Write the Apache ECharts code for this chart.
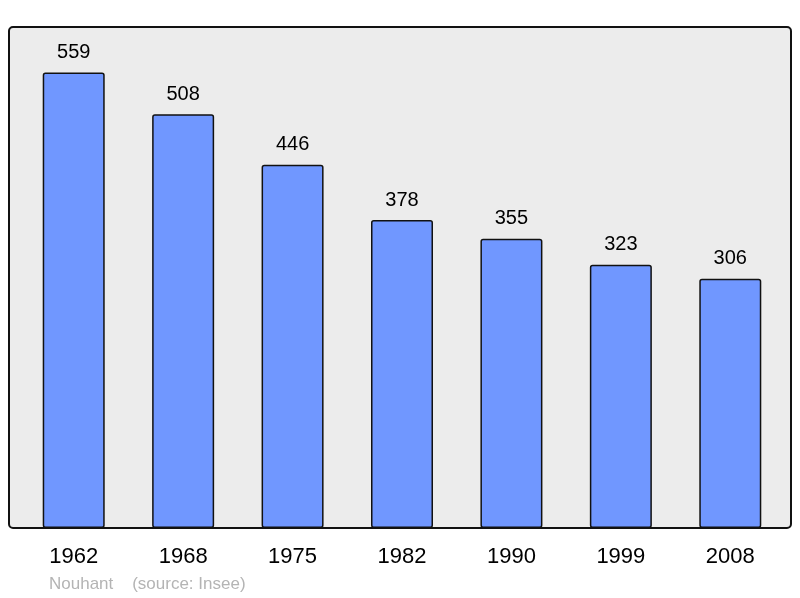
<!DOCTYPE html>
<html>
<head>
<meta charset="utf-8">
<script src="https://cdn.jsdelivr.net/npm/echarts@6/dist/echarts.min.js"></script>
<style>
  html, body { margin: 0; padding: 0; background: #fff; }
  #chart { width: 800px; height: 598px; }
</style>
</head>
<body>
<div id="chart"></div>
<script>
const years = ["1962", "1968", "1975", "1982", "1990", "1999", "2008"];
const population = [559, 508, 446, 378, 355, 323, 306];
const footerText = "Nouhant    (source: Insee)";

var chart = echarts.init(document.getElementById("chart"), null, { renderer: "canvas" });

var option = {
  backgroundColor: "#ffffff",
  textStyle: { fontFamily: "Liberation Sans, Arial, sans-serif" },
  animation: false,
  graphic: [
    {
      type: "rect",
      z: -10,
      shape: { x: 9, y: 27, width: 782, height: 501, r: 4 },
      style: { fill: "#ececec", stroke: "#111", lineWidth: 2 },
    },
    {
      type: "text",
      left: 49,
      top: 576,
      style: { text: footerText, fill: "#b4b4b4", fontSize: 17, fontFamily: "Liberation Sans, Arial, sans-serif" },
    },
  ],
  grid: { left: 19, right: 15, top: 27, bottom: 70 },
  xAxis: {
    type: "category",
    data: years,
    axisLine: { show: false },
    axisTick: { show: false },
    axisLabel: { fontSize: 22, color: "#000", margin: 18 },
  },
  yAxis: {
    type: "value",
    min: 0,
    max: 615,
    show: false,
    splitLine: { show: false },
  },
  series: [
    {
      type: "bar",
      data: population,
      barWidth: 62,
      itemStyle: { color: "#7097ff", borderColor: "#111", borderWidth: 1.5, borderRadius: 2 },
      label: { show: true, position: "top", distance: 10, fontSize: 20, color: "#000" },
    },
  ],
};
chart.setOption(option);
</script>
</body>
</html>
